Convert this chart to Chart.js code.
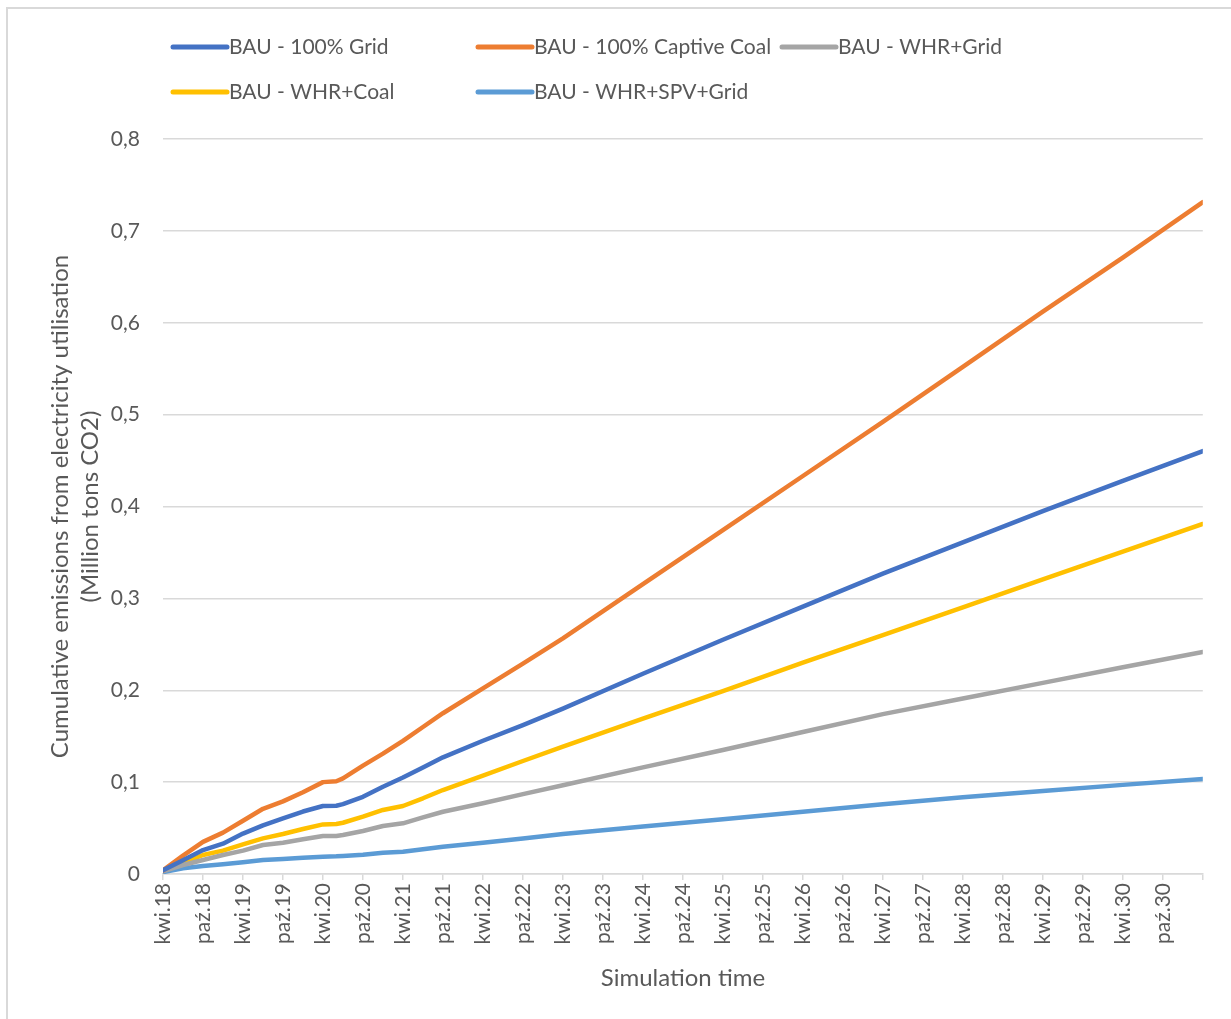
<!DOCTYPE html>
<html>
<head>
<meta charset="utf-8">
<script src="https://cdn.jsdelivr.net/npm/chart.js@4.4.0/dist/chart.umd.min.js"></script>
<style>
  html, body { margin: 0; padding: 0; background: #fff; }
  #wrap { position: relative; width: 1231px; height: 1019px; }
</style>
</head>
<body>
<div id="wrap"><canvas id="emissionsChart"></canvas></div>
<script>
// Months since April 2018 at which values were read
const months = [0, 3, 6, 9, 12, 15, 18, 21, 24, 26, 27, 30, 33, 36, 39, 42, 48, 54, 60, 72, 84, 96, 108, 120, 132, 144, 156];

// Tick labels, one every 6 months
const tickLabels = ['kwi.18', 'paź.18', 'kwi.19', 'paź.19', 'kwi.20', 'paź.20', 'kwi.21', 'paź.21',
  'kwi.22', 'paź.22', 'kwi.23', 'paź.23', 'kwi.24', 'paź.24', 'kwi.25', 'paź.25', 'kwi.26', 'paź.26',
  'kwi.27', 'paź.27', 'kwi.28', 'paź.28', 'kwi.29', 'paź.29', 'kwi.30', 'paź.30'];

// Series values (Million tons CO2)
const grid100 = [0.004, 0.015, 0.026, 0.033, 0.044, 0.053, 0.0606, 0.068, 0.074, 0.0743, 0.076, 0.084, 0.095, 0.105, 0.116, 0.127, 0.145, 0.162, 0.180, 0.218, 0.255, 0.291, 0.327, 0.361, 0.395, 0.428, 0.4603];
const captiveCoal = [0.004, 0.020, 0.035, 0.045, 0.058, 0.071, 0.079, 0.089, 0.100, 0.101, 0.104, 0.118, 0.131, 0.145, 0.160, 0.175, 0.202, 0.229, 0.2565, 0.3154, 0.3743, 0.4332, 0.4921, 0.552, 0.612, 0.671, 0.7312];
const whrGrid = [0.003, 0.0098, 0.0152, 0.0207, 0.0254, 0.0316, 0.0341, 0.0378, 0.0414, 0.0414, 0.0424, 0.0468, 0.0522, 0.0552, 0.0617, 0.0678, 0.077, 0.087, 0.0966, 0.116, 0.135, 0.1545, 0.174, 0.191, 0.208, 0.225, 0.2416];
const whrCoal = [0.004, 0.012, 0.0207, 0.0254, 0.0323, 0.0388, 0.0435, 0.049, 0.054, 0.0544, 0.0558, 0.0624, 0.0697, 0.074, 0.0824, 0.0914, 0.107, 0.123, 0.1386, 0.169, 0.199, 0.230, 0.260, 0.2903, 0.3206, 0.351, 0.381];
const whrSpvGrid = [0.002, 0.0062, 0.0087, 0.0105, 0.0127, 0.0152, 0.0163, 0.0178, 0.0189, 0.0192, 0.0196, 0.021, 0.0232, 0.0243, 0.0269, 0.0297, 0.034, 0.0387, 0.0435, 0.0516, 0.0597, 0.0678, 0.0758, 0.0835, 0.0903, 0.097, 0.1034];

const seriesNames = ['BAU - 100% Grid', 'BAU - 100% Captive Coal', 'BAU - WHR+Grid', 'BAU - WHR+Coal', 'BAU - WHR+SPV+Grid'];
const seriesValues = [grid100, captiveCoal, whrGrid, whrCoal, whrSpvGrid];
const seriesColors = ['#4472C4', '#ED7D31', '#A5A5A5', '#FFC000', '#5B9BD5'];

const FONT = 'Lato, "Open Sans", sans-serif';
const TEXT = '#595959';
const LINE = '#d9d9d9';

// Legend laid out as a grid like the original
const gridLegend = {
  id: 'gridLegend',
  afterDraw(chart) {
    const ctx = chart.ctx;
    const colX = [171, 476, 780];
    const rowY = [47, 92];
    ctx.save();
    ctx.font = '21px ' + FONT;
    ctx.textBaseline = 'middle';
    chart.data.datasets.forEach((ds, i) => {
      const x = colX[i % 3];
      const y = rowY[Math.floor(i / 3)];
      ctx.strokeStyle = ds.borderColor;
      ctx.lineWidth = 5;
      ctx.lineCap = 'round';
      ctx.beginPath();
      ctx.moveTo(x + 2, y);
      ctx.lineTo(x + 56, y);
      ctx.stroke();
      ctx.fillStyle = TEXT;
      ctx.fillText(ds.label, x + 58, y);
    });
    ctx.restore();
  }
};

// Light frame round the chart (left and top edges visible)
const frame = {
  id: 'frame',
  beforeDraw(chart) {
    const ctx = chart.ctx;
    ctx.save();
    ctx.strokeStyle = LINE;
    ctx.lineWidth = 2;
    ctx.beginPath();
    ctx.moveTo(7, chart.height);
    ctx.lineTo(7, 8);
    ctx.lineTo(chart.width, 8);
    ctx.stroke();
    ctx.restore();
  }
};

const ctx = document.getElementById('emissionsChart').getContext('2d');
new Chart(ctx, {
  type: 'line',
  data: {
    datasets: seriesNames.map((name, i) => ({
      label: name,
      data: months.map((m, j) => ({ x: m, y: seriesValues[i][j] })),
      borderColor: seriesColors[i],
      backgroundColor: seriesColors[i],
      borderWidth: 4.5,
      borderCapStyle: 'round',
      borderJoinStyle: 'round',
      pointRadius: 0,
      tension: 0,
      fill: false
    }))
  },
  options: {
    responsive: true,
    maintainAspectRatio: false,
    animation: false,
    layout: { padding: { top: 139, right: 26, left: 0, bottom: 0 } },
    plugins: {
      legend: { display: false },
      tooltip: { enabled: false }
    },
    scales: {
      x: {
        type: 'linear',
        min: 0,
        max: 156,
        afterFit: s => { s.height = 1019 - 874; },
        border: { display: true, color: LINE, width: 1.5 },
        grid: { drawOnChartArea: false, drawTicks: true, tickLength: 6, color: LINE, lineWidth: 1.5 },
        ticks: {
          stepSize: 6,
          autoSkip: false,
          minRotation: 90,
          maxRotation: 90,
          padding: 3,
          color: TEXT,
          font: { family: FONT, size: 21 },
          callback: v => (v % 6 === 0 && v / 6 < tickLabels.length) ? tickLabels[v / 6] : ''
        },
        title: {
          display: true,
          text: 'Simulation time',
          color: TEXT,
          font: { family: FONT, size: 24, lineHeight: 1.25 },
          padding: { top: 0, bottom: 26 }
        }
      },
      y: {
        min: 0,
        max: 0.8,
        afterFit: s => { s.width = 163; },
        border: { display: false },
        grid: { color: LINE, lineWidth: 1.5, drawTicks: false },
        ticks: {
          stepSize: 0.1,
          padding: 23,
          color: TEXT,
          font: { family: FONT, size: 21 },
          callback: v => v === 0 ? '0' : v.toFixed(1).replace('.', ',')
        },
        title: {
          display: true,
          text: ['Cumulative emissions from electricity utilisation', '(Million tons CO2)'],
          color: TEXT,
          font: { family: FONT, size: 24, lineHeight: 1.25 },
          padding: { top: 45, bottom: 0 }
        }
      }
    }
  },
  plugins: [frame, gridLegend]
});
</script>
</body>
</html>
